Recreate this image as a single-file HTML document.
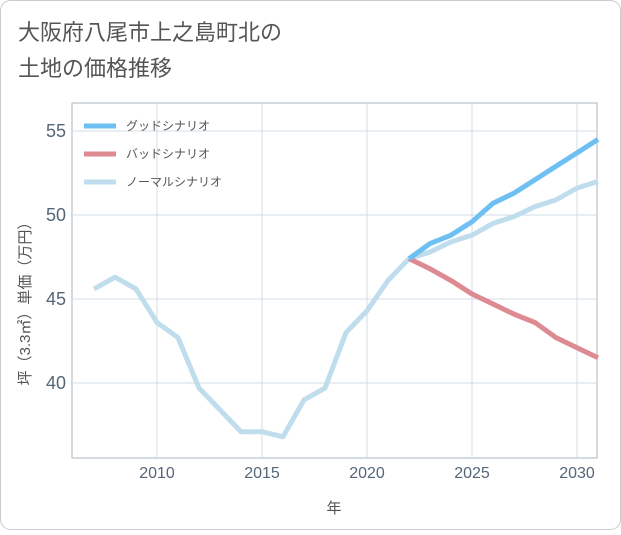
<!DOCTYPE html>
<html><head><meta charset="utf-8"><style>
body{margin:0;background:#fff;}
#wrap{width:621px;height:530px;position:relative;font-family:"Liberation Sans","Noto Sans CJK JP",sans-serif;}
</style></head><body>
<div id="wrap">
<svg id="chart" width="621" height="530">
<rect x="0.5" y="0.5" width="620" height="529" rx="10" fill="#fff" stroke="#ccc"/>
<text x="18" y="40" font-size="22" fill="#555">大阪府八尾市上之島町北の</text>
<text x="18" y="76" font-size="22" fill="#555">土地の価格推移</text>
<g id="grid"></g>
<g id="lines"></g>
<g id="legend"></g>
<text x="334" y="513" font-size="15" fill="#555" text-anchor="middle">年</text>
<text transform="translate(30,300) rotate(-90)" font-size="15" fill="#555" text-anchor="middle">坪（3.3㎡）単価（万円）</text>
</svg>
</div>
<script>
const years=[2007,2008,2009,2010,2011,2012,2013,2014,2015,2016,2017,2018,2019,2020,2021,2022,2023,2024,2025,2026,2027,2028,2029,2030,2031];
const normal=[45.6,46.3,45.6,43.6,42.7,39.7,38.4,37.1,37.1,36.8,39.0,39.7,43.0,44.3,46.1,47.4,47.8,48.4,48.8,49.5,49.9,50.5,50.9,51.6,52.0];
const goodYears=[2022,2023,2024,2025,2026,2027,2028,2029,2030,2031];
const good=[47.4,48.3,48.8,49.6,50.7,51.3,52.1,52.9,53.7,54.5];
const bad=[47.4,46.8,46.1,45.3,44.7,44.1,43.6,42.7,42.1,41.5];
const xTicks=[2010,2015,2020,2025,2030];
const yTicks=[40,45,50,55];
const L=72,R=597,T=103,B=458;
const x=v=>157+(v-2010)*21;
const y=v=>383-(v-40)*16.8;
const NS='http://www.w3.org/2000/svg';
function mk(tag,attrs,parent){const e=document.createElementNS(NS,tag);for(const k in attrs)e.setAttribute(k,attrs[k]);parent.appendChild(e);return e;}
const g=document.getElementById('grid');
const bg=mk('rect',{x:L,y:T,width:R-L,height:B-T,fill:'#fff',stroke:'#aab6c2'},g);


xTicks.forEach(t=>{
 const l=mk('line',{x1:x(t),x2:x(t),y1:T,y2:B,stroke:'#d2dce5'},g);
 
 
 const s=mk('text',{x:x(t),y:B+20,'font-size':16,fill:'#556677','text-anchor':'middle'},g);
 s.textContent=t;
 
 
});
yTicks.forEach(t=>{
 const l=mk('line',{x1:L,x2:R,y1:y(t),y2:y(t),stroke:'#d2dce5'},g);
 
 
 const s=mk('text',{x:L-6,y:y(t)+6,'font-size':18,fill:'#556677','text-anchor':'end'},g);
 s.textContent=t;
 
 
});
const lg=document.getElementById('lines');
function line(xs,vs,color,name){
 const p=mk('polyline',{points:vs.map((v,i)=>x(xs[i])+','+y(v)).join(' '),fill:'none',stroke:color,'stroke-width':5,'stroke-linejoin':'round'},lg);
 
 
}
line(years,normal,'#c0dded','normal-scenario-line');
line(goodYears,bad,'#de8a92','bad-scenario-line');
line(goodYears,good,'#6ec0f2','good-scenario-line');
const leg=document.getElementById('legend');
[['グッドシナリオ','#6ec0f2'],['バッドシナリオ','#de8a92'],['ノーマルシナリオ','#c0dded']].forEach((d,i)=>{
 const yy=126+i*28;
 const l=mk('line',{x1:84,x2:116,y1:yy,y2:yy,stroke:d[1],'stroke-width':5},leg);
 
 
 const t=mk('text',{x:126,y:yy+4,'font-size':12,fill:'#555'},leg);
 t.textContent=d[0];
 
 
});
</script>
</body></html>
